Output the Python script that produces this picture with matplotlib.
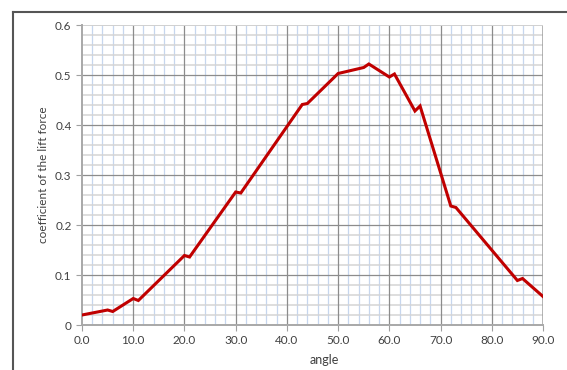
import numpy as np
import matplotlib
matplotlib.use("Agg")
import matplotlib.pyplot as plt
from matplotlib.lines import Line2D

# values
angle = [0, 5, 6, 10, 11, 20, 21, 30, 31, 43, 44, 50, 55, 56, 60, 61, 65, 66, 72, 73, 85, 86, 90]
lift = [0.020, 0.030, 0.027, 0.053, 0.049, 0.139, 0.136, 0.266, 0.264, 0.441, 0.443, 0.503, 0.515,
        0.522, 0.496, 0.502, 0.428, 0.438, 0.238, 0.235, 0.089, 0.093, 0.057]

x_ticks = np.arange(0, 91, 10)
x_labels = [f"{v:.1f}" for v in x_ticks]
y_ticks = np.arange(0, 0.61, 0.1)
y_labels = ["0"] + [f"{v:.1f}" for v in y_ticks[1:]]

plt.rcParams["font.family"] = ["Lato", "DejaVu Sans"]

fig = plt.figure(figsize=(5.67, 3.70), dpi=100)
ax = fig.add_axes([82 / 567, 1 - 325 / 370, 461 / 567, 300 / 370])

# outer chart frame (only top and left edges are visible in the crop)
fig.add_artist(Line2D([13 / 567, 1.0], [1 - 12 / 370, 1 - 12 / 370], color="#555555", lw=1.5,
                      transform=fig.transFigure))
fig.add_artist(Line2D([13 / 567, 13 / 567], [0.0, 1 - 12 / 370], color="#555555", lw=1.5,
                      transform=fig.transFigure))

ax.set_xlim(0, 90)
ax.set_ylim(0, 0.6)

# minor grid
for v in np.arange(2, 90, 2):
    if v % 10:
        ax.axvline(v, color="#c6d6ee", lw=0.9, zorder=0)
for v in np.arange(0.02, 0.6, 0.02):
    if round(v * 100) % 10:
        ax.axhline(v, color="#d4d4d4", lw=1.1, zorder=0)
# major grid
for v in x_ticks[1:-1]:
    ax.axvline(v, color="#8c8c8c", lw=0.9, zorder=1)
for v in y_ticks[1:-1]:
    ax.axhline(v, color="#8c8c8c", lw=0.9, zorder=1)
ax.axvline(90, color="#a0a0a0", lw=1.1, zorder=1)
ax.axhline(0.6, color="#d0d0d0", lw=1.4, zorder=1)

ax.plot(angle, lift, color="#c00000", lw=2.2, zorder=3, solid_joinstyle="miter")

ax.set_xticks(x_ticks)
ax.set_xticklabels(x_labels)
ax.set_yticks(y_ticks)
ax.set_yticklabels(y_labels)
ax.tick_params(axis="both", labelsize=8.5, colors="#404040", length=4, width=0.8, direction="out")
ax.tick_params(axis="both", color="#a0a0a0")

for s in ["top", "right"]:
    ax.spines[s].set_visible(False)
for s in ["left", "bottom"]:
    ax.spines[s].set_color("#a8a8a8")
    ax.spines[s].set_linewidth(1.4)

ax.set_xlabel("angle", fontsize=9, color="#404040")
ax.xaxis.set_label_coords(0.525, -0.095)
ax.set_ylabel("coefficient of the lift force", fontsize=8.5, color="#404040")
ax.yaxis.set_label_coords(-0.072, 0.5)

fig.savefig("out.png", dpi=100)
